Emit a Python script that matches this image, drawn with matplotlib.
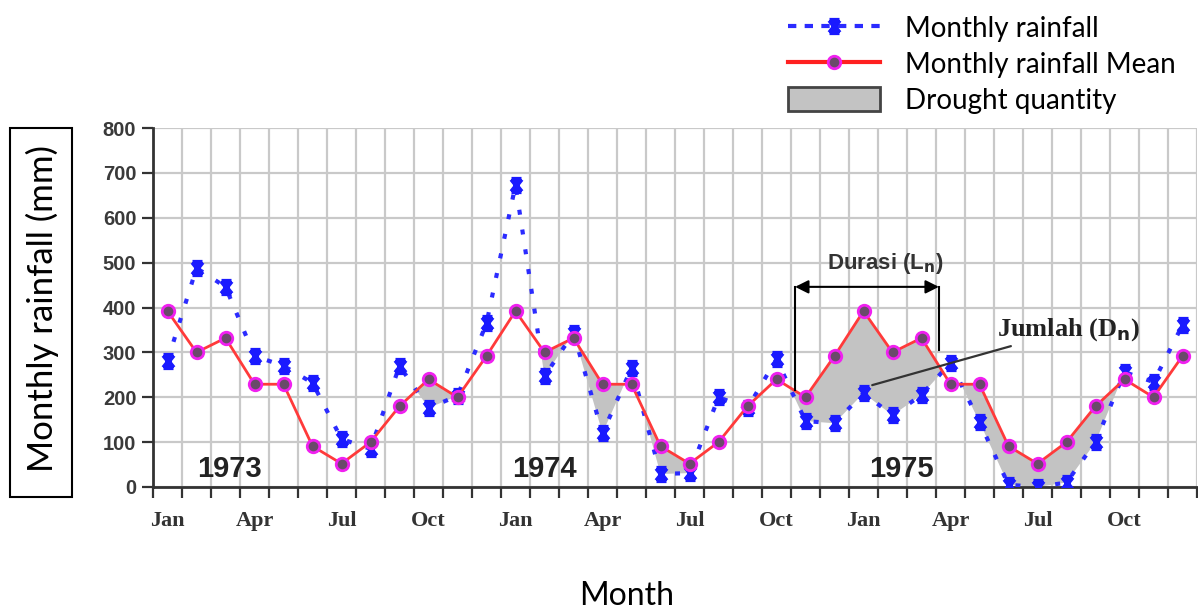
import matplotlib
matplotlib.use('Agg')
import matplotlib.pyplot as plt
import numpy as np
from matplotlib.path import Path
from matplotlib.lines import Line2D
from matplotlib.patches import Patch, Rectangle

month_names = ['Jan', 'Feb', 'Mar', 'Apr', 'May', 'Jun',
               'Jul', 'Aug', 'Sep', 'Oct', 'Nov', 'Dec']
years = ['1973', '1974', '1975']

rain_1973 = [281, 488, 446, 292, 270, 232, 107, 85, 270, 176, 203, 365]
rain_1974 = [673, 247, 343, 120, 265, 29, 31, 200, 176, 285, 147, 142]
rain_1975 = [209, 160, 205, 277, 145, 5, 0, 10, 100, 256, 234, 361]

mean_monthly = [392, 300, 332, 229, 229, 91, 52, 100, 180, 240, 200, 292]

# months marked as drought (shaded) in the reference
drought_1973 = [0, 0, 0, 0, 0, 0, 0, 0, 0, 1, 0, 0]
drought_1974 = [0, 1, 0, 1, 0, 1, 1, 0, 0, 0, 1, 1]
drought_1975 = [1, 1, 1, 0, 1, 1, 1, 1, 1, 0, 0, 0]

tick_labels = ['Jan', 'Apr', 'Jul', 'Oct'] * 3

rain = np.array(rain_1973 + rain_1974 + rain_1975, dtype=float)
mean = np.array(mean_monthly * 3, dtype=float)
drought = np.array(drought_1973 + drought_1974 + drought_1975, dtype=bool)
x = np.arange(len(rain))

W, H = 1198, 614
fig = plt.figure(figsize=(W / 100, H / 100), dpi=100)
ax = fig.add_axes([153 / W, 1 - 487 / H, (1197 - 153) / W, (487 - 128) / H])

ui_font = ['Lato', 'DejaVu Sans']

# drought fill
ax.fill_between(x, rain, mean, where=(rain < mean) & drought, interpolate=True,
                color='#c3c3c3', linewidth=0, zorder=1)

# custom marker: bold X with bars
verts = [(-0.8, -1), (0.8, 1), (-0.8, 1), (0.8, -1),
         (-0.8, 1), (0.8, 1), (-0.8, -1), (0.8, -1)]
codes = [Path.MOVETO, Path.LINETO] * 4
xmark = Path(verts, codes)

ax.plot(x, rain, linestyle=(0, (1.2, 3.6)), color='#2b2bff', linewidth=3,
        marker=xmark, markersize=9, markeredgewidth=3.4,
        markeredgecolor='#1a1aff', zorder=3)
ax.plot(x, mean, linestyle='-', color='#ff3a3a', linewidth=2,
        marker='o', markersize=9, markerfacecolor='#6a4a6a',
        markeredgecolor='#f020f0', markeredgewidth=2, zorder=4)

ax.set_xlim(-0.5, len(rain) - 0.5)
ax.set_ylim(0, 800)

ax.set_xticks(np.arange(0, 36, 3))
ax.set_xticklabels(tick_labels, fontfamily='Liberation Serif', fontweight='bold',
                   fontsize=16, color='#333333')
ax.set_xticks(np.arange(-0.5, 36, 1), minor=True)
ax.tick_params(axis='x', which='major', length=0, pad=17)
ax.tick_params(axis='x', which='minor', length=8, width=1.6, color='#333333',
               direction='out')
ax.set_yticks(np.arange(0, 801, 100))
ax.set_yticklabels([str(v) for v in range(0, 801, 100)],
                   fontfamily='Liberation Sans', fontweight='bold',
                   fontsize=14.5, color='#3a3a3a')
ax.tick_params(axis='y', length=8, width=1.6, color='#333333', pad=4)

ax.grid(True, axis='x', which='minor', color='#c9c9c9', linewidth=1.6)
ax.grid(True, axis='y', which='major', color='#c9c9c9', linewidth=1.6)
ax.set_axisbelow(True)

for s in ['top', 'right']:
    ax.spines[s].set_visible(False)
for s in ['left', 'bottom']:
    ax.spines[s].set_color('#333333')
    ax.spines[s].set_linewidth(2)

# year labels
for xi, yr in zip([2.15, 13.0, 25.3], years):
    ax.text(xi, 40, yr, ha='center', va='center', fontfamily='Liberation Sans',
            fontweight='bold', fontsize=21, color='#222222', zorder=5)

# duration arrow
ax.annotate('', xy=(21.64, 446), xytext=(26.6, 446),
            arrowprops=dict(arrowstyle='<|-|>', color='black', lw=1.5,
                            mutation_scale=20, shrinkA=0, shrinkB=0), zorder=6)
ax.plot([21.64, 21.64], [446, 216], color='black', lw=1.5, zorder=6)
ax.plot([26.6, 26.6], [446, 305], color='black', lw=1.5, zorder=6)
ax.text(24.74, 499, r'Durasi (L$_{\mathbf{n}}$)', ha='center', va='center',
        fontfamily='Liberation Sans', fontweight='bold', fontsize=16,
        color='#333333', zorder=6)

# amount annotation
ax.annotate('Jumlah (D$_{\\mathbf{n}}$)', xy=(24.3, 227), xytext=(28.6, 350),
            ha='left', va='center', fontfamily='Liberation Serif',
            fontweight='bold', fontsize=19, color='#222222',
            arrowprops=dict(arrowstyle='-', color='#333333', lw=1.6,
                            shrinkA=0, shrinkB=0), zorder=6)

# y label in a box
fig.patches.append(Rectangle((10 / W, 1 - 497 / H), 62 / W, 369 / H,
                             transform=fig.transFigure, fill=False,
                             edgecolor='black', linewidth=1.5))
fig.text(42 / W, 1 - 309 / H, 'Monthly rainfall (mm)', rotation=90,
         ha='center', va='center', fontfamily=ui_font, fontsize=25)

fig.text(627 / W, 1 - 596 / H, 'Month', ha='center', va='center',
         fontfamily=ui_font, fontsize=23)

# legend
handles = [
    Line2D([], [], linestyle=(0, (2, 2)), color='#2b2bff', linewidth=3,
           marker=xmark, markersize=9, markeredgewidth=3.4,
           markeredgecolor='#1a1aff'),
    Line2D([], [], linestyle='-', color='#ff2020', linewidth=3,
           marker='o', markersize=9, markerfacecolor='#6a4a6a',
           markeredgecolor='#f020f0', markeredgewidth=2),
    Patch(facecolor='#c3c3c3', edgecolor='#444444', linewidth=2),
]
labels = ['Monthly rainfall', 'Monthly rainfall Mean', 'Drought quantity']
leg = fig.legend(handles, labels, loc='upper left',
                 bbox_to_anchor=(774 / W, 1 - 1 / H), frameon=False,
                 prop={'family': ui_font, 'size': 20}, handlelength=3.3,
                 handletextpad=0.9, labelspacing=0.32, borderpad=0,
                 numpoints=1, handleheight=1.0)

fig.savefig('out.png', dpi=100)
